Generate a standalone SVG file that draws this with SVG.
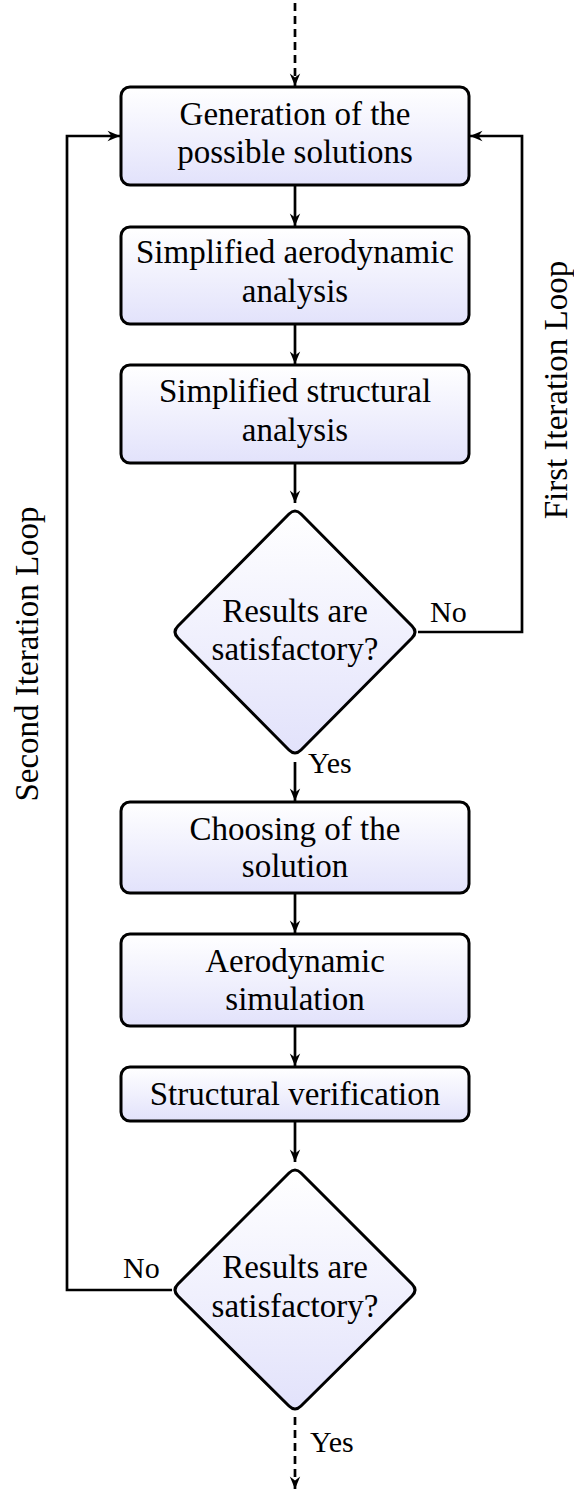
<svg xmlns="http://www.w3.org/2000/svg" width="574" height="1492" viewBox="0 0 574 1492" font-family="Liberation Serif">
  <style>
    text { font-family: 'Liberation Serif', serif !important; }
    .box { fill: url(#fillGrad); stroke: #000; stroke-width: 3; }
    .lbl { font-size: 33px; fill: #000; text-anchor: middle; }
    .small { font-size: 30px; fill: #000; }
    .edge { fill: none; stroke: #000; stroke-width: 2.7; }
    .dash { stroke-dasharray: 8 5; }
  </style>
  <defs>
    <linearGradient id="fillGrad" x1="0" y1="0" x2="0" y2="1">
      <stop offset="0" stop-color="#ffffff"/>
      <stop offset="1" stop-color="#e2e2fb"/>
    </linearGradient>
    <marker id="arrow" markerUnits="userSpaceOnUse" markerWidth="16" markerHeight="14" viewBox="-14 -7 16 14" refX="0" refY="0" orient="auto">
      <path d="M0,0 L-12.5,-5.2 L-8.5,0 L-12.5,5.2 Z" fill="#000"/>
    </marker>
  </defs>

  <!-- connectors -->
  <g id="connectors">
    <line class="edge dash" x1="295" y1="3" x2="295" y2="86" marker-end="url(#arrow)"/>
    <line class="edge" x1="295" y1="185" x2="295" y2="226" marker-end="url(#arrow)"/>
    <line class="edge" x1="295" y1="324" x2="295" y2="364" marker-end="url(#arrow)"/>
    <line class="edge" x1="295" y1="463" x2="295" y2="503" marker-end="url(#arrow)"/>
    <line class="edge" x1="295" y1="762" x2="295" y2="801" marker-end="url(#arrow)"/>
    <line class="edge" x1="295" y1="893" x2="295" y2="933" marker-end="url(#arrow)"/>
    <line class="edge" x1="295" y1="1026" x2="295" y2="1066" marker-end="url(#arrow)"/>
    <line class="edge" x1="295" y1="1121" x2="295" y2="1162" marker-end="url(#arrow)"/>
    <line class="edge dash" x1="295" y1="1417" x2="295" y2="1489" marker-end="url(#arrow)"/>
    <polyline class="edge" points="418,632 522,632 522,136 470,136" marker-end="url(#arrow)"/>
    <polyline class="edge" points="172,1290 67,1290 67,136 120,136" marker-end="url(#arrow)"/>
    <text class="small" font-family="Liberation Serif" x="430" y="622">No</text>
    <text class="small" font-family="Liberation Serif" x="308" y="773">Yes</text>
    <text class="small" font-family="Liberation Serif" x="123" y="1278">No</text>
    <text class="small" font-family="Liberation Serif" x="310" y="1452">Yes</text>
  </g>

  <!-- process nodes -->
  <g id="generation">
    <rect class="box" x="121" y="87" width="348" height="98" rx="9"/>
    <text class="lbl" font-family="Liberation Serif" x="295" y="125">Generation of the</text>
    <text class="lbl" font-family="Liberation Serif" x="295" y="163">possible solutions</text>
  </g>
  <g id="aero-simple">
    <rect class="box" x="121" y="227" width="348" height="97" rx="9"/>
    <text class="lbl" font-family="Liberation Serif" x="295" y="263">Simplified aerodynamic</text>
    <text class="lbl" font-family="Liberation Serif" x="295" y="302">analysis</text>
  </g>
  <g id="struct-simple">
    <rect class="box" x="121" y="365" width="348" height="98" rx="9"/>
    <text class="lbl" font-family="Liberation Serif" x="295" y="402">Simplified structural</text>
    <text class="lbl" font-family="Liberation Serif" x="295" y="441">analysis</text>
  </g>
  <g id="check-1">
    <path class="box" d="M289,514 Q295,508 301,514 L412,626 Q418,632 412,638 L301,750 Q295,756 289,750 L178,638 Q172,632 178,626 Z"/>
    <text class="lbl" font-family="Liberation Serif" x="295" y="622">Results are</text>
    <text class="lbl" font-family="Liberation Serif" x="295" y="660">satisfactory?</text>
  </g>
  <g id="choosing">
    <rect class="box" x="121" y="802" width="348" height="91" rx="9"/>
    <text class="lbl" font-family="Liberation Serif" x="295" y="840">Choosing of the</text>
    <text class="lbl" font-family="Liberation Serif" x="295" y="877">solution</text>
  </g>
  <g id="aero-sim">
    <rect class="box" x="121" y="934" width="348" height="92" rx="9"/>
    <text class="lbl" font-family="Liberation Serif" x="295" y="972">Aerodynamic</text>
    <text class="lbl" font-family="Liberation Serif" x="295" y="1010">simulation</text>
  </g>
  <g id="struct-verif">
    <rect class="box" x="121" y="1067" width="348" height="54" rx="9"/>
    <text class="lbl" font-family="Liberation Serif" x="295" y="1105">Structural verification</text>
  </g>
  <g id="check-2">
    <path class="box" d="M289,1173 Q295,1167 301,1173 L412,1284 Q418,1290 412,1296 L301,1406 Q295,1412 289,1406 L178,1296 Q172,1290 178,1284 Z"/>
    <text class="lbl" font-family="Liberation Serif" x="295" y="1278">Results are</text>
    <text class="lbl" font-family="Liberation Serif" x="295" y="1317">satisfactory?</text>
  </g>

  <!-- loop captions -->
  <g id="loop-captions">
    <text class="lbl" font-family="Liberation Serif" transform="translate(567,390) rotate(-90)">First Iteration Loop</text>
    <text class="lbl" font-family="Liberation Serif" transform="translate(38,654) rotate(-90)">Second Iteration Loop</text>
  </g>
</svg>
